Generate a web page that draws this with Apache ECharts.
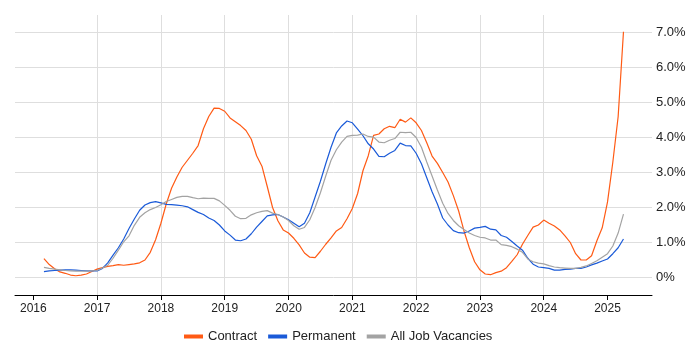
<!DOCTYPE html>
<html>
<head>
<meta charset="utf-8">
<script src="https://cdn.jsdelivr.net/npm/echarts@6/dist/echarts.min.js"></script>
<style>
  html, body { margin: 0; padding: 0; background: #fff; }
  #chart { width: 700px; height: 350px; }
</style>
</head>
<body>
<div id="chart"></div>
<script>
// monthly points, Mar 2016 .. Apr 2025
var firstMonth = [2016, 3];
var monthCount = 110;

var years = [2016, 2017, 2018, 2019, 2020, 2021, 2022, 2023, 2024, 2025];
var pctTicks = [0, 1, 2, 3, 4, 5, 6, 7];

var contract = [
  0.54, 0.37, 0.25, 0.16, 0.12, 0.07, 0.05, 0.07, 0.10, 0.17,
  0.24, 0.28, 0.32, 0.34, 0.37, 0.35, 0.37, 0.39, 0.42, 0.50, 0.72, 1.08,
  1.55, 2.10, 2.55, 2.87, 3.15, 3.35, 3.55, 3.77, 4.25, 4.60, 4.84, 4.83,
  4.75, 4.56, 4.45, 4.34, 4.20, 3.95, 3.48, 3.18, 2.60, 2.00, 1.62, 1.36,
  1.27, 1.12, 0.93, 0.70, 0.58, 0.57, 0.75, 0.95, 1.13, 1.33, 1.43, 1.68,
  1.97, 2.40, 3.05, 3.48, 4.06, 4.10, 4.25, 4.32, 4.28, 4.52, 4.44, 4.56,
  4.42, 4.20, 3.85, 3.47, 3.26, 3.00, 2.73, 2.34, 1.90, 1.33, 0.85, 0.45,
  0.22, 0.10, 0.08, 0.14, 0.18, 0.28, 0.46, 0.65, 0.95, 1.20, 1.44, 1.50,
  1.64, 1.55, 1.47, 1.36, 1.19, 1.00, 0.68, 0.50, 0.50, 0.62, 1.05, 1.42,
  2.16, 3.30, 4.60, 7.02
];
var permanent = [
  0.17, 0.19, 0.20, 0.21, 0.22, 0.22, 0.21, 0.20, 0.19, 0.19,
  0.19, 0.26, 0.42, 0.64, 0.85, 1.10, 1.40, 1.67, 1.92, 2.07, 2.14, 2.17,
  2.13, 2.09, 2.08, 2.07, 2.05, 2.02, 1.94, 1.86, 1.80, 1.70, 1.63, 1.50,
  1.33, 1.21, 1.07, 1.05, 1.10, 1.25, 1.44, 1.60, 1.76, 1.79, 1.80, 1.73,
  1.65, 1.55, 1.45, 1.55, 1.85, 2.30, 2.75, 3.25, 3.72, 4.13, 4.33, 4.47,
  4.42, 4.24, 4.05, 3.82, 3.67, 3.46, 3.45, 3.55, 3.63, 3.84, 3.77, 3.76,
  3.55, 3.25, 2.85, 2.45, 2.10, 1.70, 1.50, 1.34, 1.28, 1.27, 1.33, 1.41,
  1.43, 1.46, 1.38, 1.36, 1.20, 1.15, 1.03, 0.90, 0.78, 0.55, 0.38, 0.30,
  0.28, 0.26, 0.21, 0.21, 0.23, 0.24, 0.26, 0.26, 0.30, 0.36, 0.41, 0.47,
  0.53, 0.68, 0.85, 1.10
];
var allJobs = [
  0.29, 0.26, 0.24, 0.22, 0.20, 0.19, 0.18, 0.18, 0.18, 0.19,
  0.20, 0.27, 0.35, 0.55, 0.78, 1.02, 1.19, 1.49, 1.72, 1.85, 1.94, 2.00,
  2.08, 2.17, 2.23, 2.29, 2.32, 2.32, 2.28, 2.25, 2.27, 2.26, 2.26, 2.19,
  2.06, 1.92, 1.75, 1.68, 1.69, 1.79, 1.85, 1.89, 1.91, 1.84, 1.80, 1.73,
  1.63, 1.48, 1.38, 1.43, 1.65, 2.00, 2.42, 2.90, 3.35, 3.65, 3.87, 4.03,
  4.06, 4.07, 4.10, 4.03, 4.01, 3.87, 3.85, 3.92, 3.97, 4.15, 4.14, 4.15,
  4.00, 3.72, 3.30, 2.90, 2.50, 2.12, 1.83, 1.63, 1.48, 1.37, 1.27, 1.20,
  1.15, 1.13, 1.07, 1.07, 0.94, 0.92, 0.88, 0.81, 0.72, 0.53, 0.45, 0.41,
  0.39, 0.34, 0.30, 0.28, 0.27, 0.26, 0.26, 0.29, 0.33, 0.40, 0.48, 0.58,
  0.68, 0.90, 1.27, 1.81
];

// month positions as fractional years on the x axis
var months = [];
for (var i = 0; i < monthCount; i++) {
  var m = firstMonth[1] - 1 + i;
  months.push(firstMonth[0] + m / 12);
}

function pairs(values) {
  return values.map(function (v, i) { return [months[i], v]; });
}

var chart = echarts.init(document.getElementById('chart'));
chart.setOption({
  animation: false,
  textStyle: { fontFamily: 'Liberation Sans, Arial, sans-serif' },
  grid: { left: 15, right: 48, top: 15, bottom: 55, containLabel: false },
  legend: {
    bottom: 2,
    left: 179,
    itemWidth: 19,
    itemHeight: 4,
    itemGap: 11,
    icon: 'rect',
    textStyle: { fontSize: 13, color: '#222' },
    data: ['Contract', 'Permanent', 'All Job Vacancies']
  },
  xAxis: {
    type: 'value',
    min: 2015.713,
    max: 2025.697,
    splitNumber: 10,
    axisLine: { onZero: false, lineStyle: { color: '#000', width: 1 } },
    axisTick: { show: true, length: 5, lineStyle: { color: '#000' }, customValues: years },
    axisLabel: {
      customValues: years,
      fontSize: 12,
      color: '#222',
      margin: 8,
      formatter: function (v) { return String(Math.round(v)); }
    },
    splitLine: { show: true, showMinLine: false, showMaxLine: false, lineStyle: { color: '#dedede' } }
  },
  yAxis: {
    type: 'value',
    position: 'right',
    min: -0.5,
    max: 7.5,
    splitNumber: 8,
    axisLine: { show: false },
    axisTick: { show: false },
    axisLabel: {
      fontSize: 13,
      color: '#222',
      margin: 4,
      customValues: pctTicks,
      formatter: function (v) { return v === 0 ? '0%' : v.toFixed(1) + '%'; }
    },
    splitLine: { show: true, showMinLine: false, showMaxLine: false, lineStyle: { color: '#dedede' } }
  },
  series: [
    {
      name: 'Contract', type: 'line', showSymbol: false,
      itemStyle: { color: '#ff5a14' },
      lineStyle: { color: '#ff5a14', width: 1.2 },
      data: pairs(contract)
    },
    {
      name: 'Permanent', type: 'line', showSymbol: false,
      itemStyle: { color: '#1a5ad8' },
      lineStyle: { color: '#1a5ad8', width: 1.2 },
      data: pairs(permanent)
    },
    {
      name: 'All Job Vacancies', type: 'line', showSymbol: false,
      itemStyle: { color: '#a3a3a3' },
      lineStyle: { color: '#a3a3a3', width: 1.2 },
      data: pairs(allJobs)
    }
  ]
});
</script>
</body>
</html>
